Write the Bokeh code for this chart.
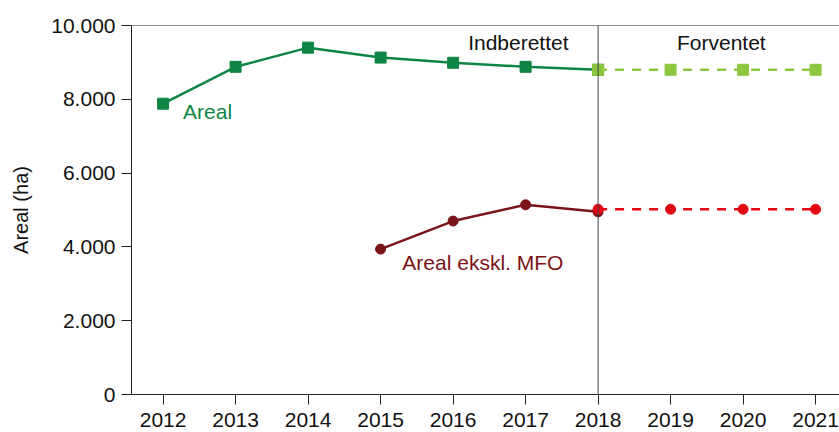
from bokeh.plotting import figure
from bokeh.models import Range1d, FixedTicker, Span, Label
from bokeh.embed import file_html
from bokeh.resources import INLINE

years = [2012, 2013, 2014, 2015, 2016, 2017, 2018]
areal = [7880, 8880, 9400, 9130, 8990, 8880, 8800]
fc_years = [2018, 2019, 2020, 2021]
areal_fc = [8800, 8800, 8800, 8800]
mfo_years = [2015, 2016, 2017, 2018]
mfo = [3940, 4700, 5140, 4950]
mfo_fc = [5020, 5020, 5020, 5020]
y_ticks = [0, 2000, 4000, 6000, 8000, 10000]
y_labels = ["0", "2.000", "4.000", "6.000", "8.000", "10.000"]

FONT = "Liberation Sans"
GREEN = "#0e8544"
LGREEN = "#8cc63f"
DRED = "#7a1418"
RED = "#e30613"

p = figure(width=839, height=432, output_backend="svg", toolbar_location=None,
           x_range=Range1d(2011.564, 2021.33), y_range=Range1d(0, 10000),
           min_border_left=131, min_border_right=0, min_border_top=25, min_border_bottom=38)
p.outline_line_color = None
p.grid.visible = False
p.background_fill_color = "white"

# axes
p.xaxis.ticker = FixedTicker(ticks=years + fc_years[1:])
p.yaxis.ticker = FixedTicker(ticks=y_ticks)
p.yaxis.major_label_overrides = {t: l for t, l in zip(y_ticks, y_labels)}
for ax in (p.xaxis, p.yaxis):
    ax.major_tick_out = 10
    ax.major_tick_in = 0
    ax.minor_tick_out = 0
    ax.minor_tick_in = 0
    ax.axis_line_color = "#222222"
    ax.major_tick_line_color = "#222222"
    ax.major_label_text_font = FONT
    ax.major_label_text_font_size = "21px"
    ax.major_label_text_color = "#111111"
p.xaxis.major_label_standoff = 8
p.yaxis.major_label_standoff = 6
p.yaxis.axis_label = "Areal (ha)"
p.yaxis.axis_label_text_font = FONT
p.yaxis.axis_label_text_font_size = "20px"
p.yaxis.axis_label_text_font_style = "normal"
p.yaxis.axis_label_text_color = "#111111"
p.yaxis.axis_label_standoff = 16

# top border and divider
p.add_layout(Span(location=10000, dimension="width", line_color="#222222", line_width=1))
p.add_layout(Span(location=2018, dimension="height", line_color="#444444", line_width=1))

# Areal
p.line(years, areal, line_color=GREEN, line_width=2.5)
p.scatter(years, areal, marker="square", size=11, fill_color=GREEN, line_color=GREEN)
p.line(fc_years, areal_fc, line_color=LGREEN, line_width=2.5, line_dash="9 8")
p.scatter(fc_years, areal_fc, marker="square", size=11, fill_color=LGREEN, line_color=LGREEN)

# Areal ekskl. MFO
p.line(mfo_years, mfo, line_color=DRED, line_width=2.5)
p.scatter(mfo_years, mfo, marker="circle", size=10, fill_color=DRED, line_color=DRED)
p.line(fc_years, mfo_fc, line_color=RED, line_width=2.5, line_dash="9 8")
p.scatter(fc_years, mfo_fc, marker="circle", size=10, fill_color=RED, line_color=RED)

def lab(x, y, t, color, align="left"):
    p.add_layout(Label(x=x, y=y, text=t, text_color=color, text_font=FONT,
                       text_font_size="21px", text_align=align, text_baseline="alphabetic"))

lab(2012.275, 7660, "Areal", GREEN)
lab(2015.30, 3590, "Areal ekskl. MFO", DRED)
lab(2016.9, 9540, "Indberettet", "#111111", "center")
lab(2019.70, 9540, "Forventet", "#111111", "center")

open("out.html", "w").write(file_html(p, INLINE))
